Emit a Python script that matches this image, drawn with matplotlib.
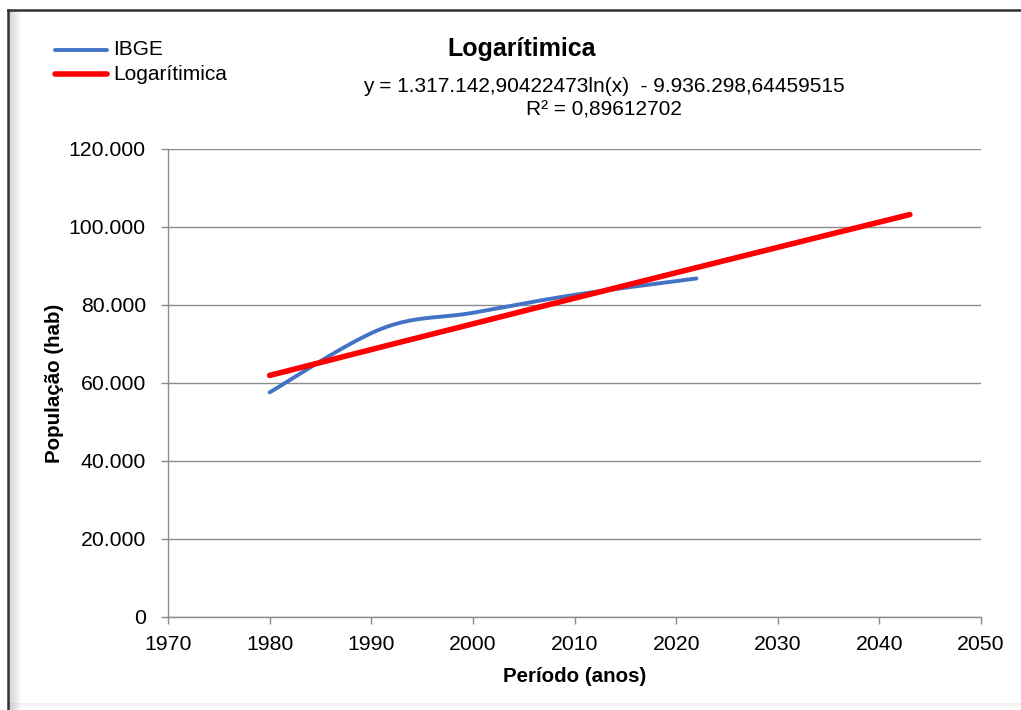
import numpy as np
import matplotlib
matplotlib.use("Agg")
import matplotlib.pyplot as plt
from matplotlib.lines import Line2D
from matplotlib.patches import Rectangle
from matplotlib.ticker import FuncFormatter, MultipleLocator

plt.rcParams['font.family'] = ['Liberation Sans', 'DejaVu Sans']

# IBGE census population
anos = [1980, 1991, 2000, 2010, 2022]
populacao = [57600, 73900, 78000, 82600, 86800]

# logarithmic trend: y = a*ln(x) + b
coef_a = 1317142.90422473
coef_b = -9936298.64459515
r2 = 0.89612702
tend_inicio, tend_fim = 1980, 2043

W, H = 1021, 710
fig = plt.figure(figsize=(W / 100, H / 100), dpi=100)
ax = fig.add_axes([168 / W, 1 - 617 / H, (981 - 168) / W, (617 - 149) / H])


def smooth_curve(xs, ys, n=40):
    """Bezier smoothing through the points (Catmull-Rom style control points)."""
    xs = np.asarray(xs, float)
    ys = np.asarray(ys, float)
    pts = np.column_stack([xs, ys])
    out = []
    m = len(pts)
    t = np.linspace(0, 1, n)[:, None]
    for i in range(m - 1):
        p0 = pts[i - 1] if i > 0 else pts[i]
        p1 = pts[i]
        p2 = pts[i + 1]
        p3 = pts[i + 2] if i + 2 < m else pts[i + 1]
        c1 = p1 + (p2 - p0) / 6.0
        c2 = p2 - (p3 - p1) / 6.0
        seg = ((1 - t) ** 3) * p1 + 3 * ((1 - t) ** 2) * t * c1 + 3 * (1 - t) * t ** 2 * c2 + t ** 3 * p2
        out.append(seg if i == 0 else seg[1:])
    out = np.vstack(out)
    return out[:, 0], out[:, 1]


sx, sy = smooth_curve(anos, populacao)
azul = '#4472C4'
vermelho = '#FF0000'
lw_azul, lw_verm = 2.8, 4.0
ax.plot(sx, sy, color=azul, lw=lw_azul, solid_capstyle='round', zorder=3)

xt = np.linspace(tend_inicio, tend_fim, 300)
yt = coef_a * np.log(xt) + coef_b
ax.plot(xt, yt, color=vermelho, lw=lw_verm, solid_capstyle='round', zorder=4)

ax.set_xlim(1970, 2050)
ax.set_ylim(0, 120000)
ax.xaxis.set_major_locator(MultipleLocator(10))
ax.yaxis.set_major_locator(MultipleLocator(20000))
ax.yaxis.set_major_formatter(FuncFormatter(lambda v, p: f"{int(v):,}".replace(',', '.')))

grid_c = '#8C8C8C'
ax.grid(axis='y', color=grid_c, lw=1.0)
ax.set_axisbelow(True)
for s in ['top', 'right']:
    ax.spines[s].set_visible(False)
for s in ['left', 'bottom']:
    ax.spines[s].set_color(grid_c)
    ax.spines[s].set_linewidth(1.0)
ax.tick_params(axis='both', direction='out', length=5, width=1, color=grid_c,
               labelsize=15.3, labelcolor='black')
ax.tick_params(axis='x', pad=8)
ax.tick_params(axis='y', pad=11)

ax.set_xlabel('Período (anos)', fontsize=14.8, fontweight='bold', labelpad=9)
ax.set_ylabel('População (hab)', fontsize=14.8, fontweight='bold')
ax.yaxis.set_label_coords((64 - 168) / (981 - 168), 0.5)


def fx(px):
    return px / W


def fy(py):
    return 1 - py / H


fig.text(fx(522), fy(56), 'Logarítimica', fontsize=18, fontweight='bold',
         ha='center', va='baseline')
fig.text(fx(604), fy(92), 'y = 1.317.142,90422473ln(x)  - 9.936.298,64459515',
         fontsize=15, ha='center', va='baseline')
fig.text(fx(604), fy(115.5), f'R² = {r2:.8f}'.replace('.', ','),
         fontsize=15, ha='center', va='baseline')

# legend
for py, col, lw, lab in [(49.5, azul, lw_azul, 'IBGE'), (74.3, vermelho, lw_verm, 'Logarítimica')]:
    fig.add_artist(Line2D([fx(55), fx(107)], [fy(py), fy(py)], color=col, lw=lw,
                          solid_capstyle='round', transform=fig.transFigure))
    fig.text(fx(113), fy(py), lab, fontsize=15, ha='left', va='center')

# chart frame with soft shadow
for k in range(12):
    a = 0.35 * (1 - k / 12)
    fig.add_artist(Rectangle((fx(9 + k), 0), 1 / W, fy(11), transform=fig.transFigure,
                             color='#808080', alpha=a, lw=0))
for k in range(7):
    a = 0.12 * (k / 7)
    fig.add_artist(Rectangle((fx(9), k / H), 1 - fx(9), 1 / H, transform=fig.transFigure,
                             color='#808080', alpha=a, lw=0))
fig.add_artist(Line2D([fx(7.5), 1], [fy(10), fy(10)], color='#333333', lw=1.8,
                      transform=fig.transFigure))
fig.add_artist(Line2D([fx(7.5), fx(7.5)], [0, fy(10)], color='#333333', lw=1.8,
                      transform=fig.transFigure))

fig.savefig('out.png', dpi=100)
